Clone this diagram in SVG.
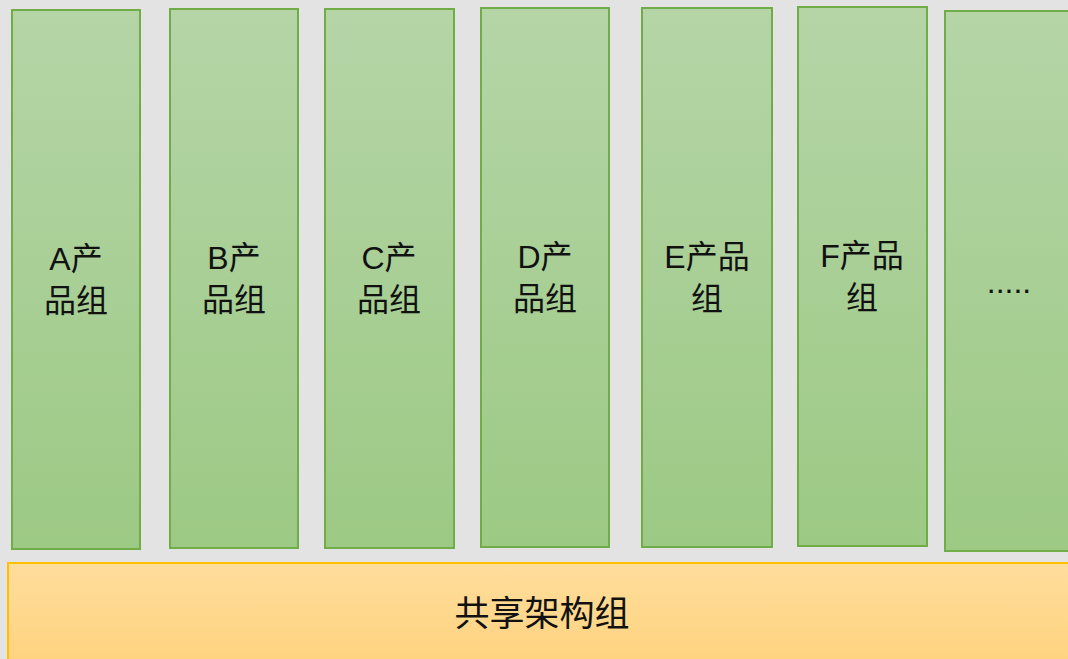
<svg xmlns="http://www.w3.org/2000/svg" width="1068" height="659" viewBox="0 0 1068 659">
<defs>
<linearGradient id="gg" x1="0" y1="0" x2="0" y2="1">
<stop offset="0" stop-color="#b5d5a7"/>
<stop offset="1" stop-color="#9cc984"/>
</linearGradient>
<linearGradient id="og" x1="0" y1="0" x2="0" y2="1">
<stop offset="0" stop-color="#ffdd9c"/>
<stop offset="1" stop-color="#ffd27c"/>
</linearGradient>
<style>
.g{fill:url(#gg);stroke:#70ad47;stroke-width:2}
.o{fill:url(#og);stroke:#ffc000;stroke-width:2}
text{font-family:"Liberation Sans","Noto Sans CJK SC",sans-serif;font-size:32px;fill:#111;text-anchor:middle}
.b{font-size:35px}
</style>
</defs>
<rect width="1068" height="659" fill="#e3e3e3"/>
<g id="nodeA"><rect class="g" x="12" y="10" width="128" height="539"/><text x="76" y="270">A产</text><text x="76" y="312">品组</text></g>
<g id="nodeB"><rect class="g" x="170" y="9" width="128" height="539"/><text x="234" y="269">B产</text><text x="234" y="311">品组</text></g>
<g id="nodeC"><rect class="g" x="325" y="9" width="129" height="539"/><text x="389" y="269">C产</text><text x="389" y="311">品组</text></g>
<g id="nodeD"><rect class="g" x="481" y="8" width="128" height="539"/><text x="545" y="268">D产</text><text x="545" y="310">品组</text></g>
<g id="nodeE"><rect class="g" x="642" y="8" width="130" height="539"/><text x="707" y="268">E产品</text><text x="707" y="310">组</text></g>
<g id="nodeF"><rect class="g" x="798" y="7" width="129" height="539"/><text x="862" y="267">F产品</text><text x="862" y="309">组</text></g>
<g id="nodeG"><rect class="g" x="945" y="11" width="130" height="540"/><text x="1009" y="293">.....</text></g>
<g id="shared"><rect class="o" x="8" y="563" width="1070" height="110"/><text class="b" x="542" y="626">共享架构组</text></g>
<g id="connectors"></g>
</svg>
